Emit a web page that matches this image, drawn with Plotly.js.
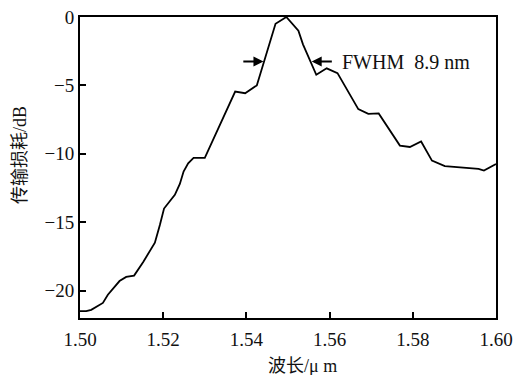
<!DOCTYPE html>
<html>
<head>
<meta charset="utf-8">
<script src="https://cdn.plot.ly/plotly-3.0.1.min.js"></script>
<style>html,body{margin:0;padding:0;background:#fff;}#chart{width:518px;height:375px;}</style>
</head>
<body>
<div id="chart"></div>
<script>
// Wavelength (μm)
const wavelength = [1.5000,1.5015,1.5027,1.5055,1.5067,1.5080,1.5095,1.5111,1.5130,1.5152,1.5180,1.5192,1.5202,1.5228,1.5240,1.5249,1.5260,1.5273,1.5300,1.5373,1.5397,1.5425,1.5470,1.5496,1.5525,1.5536,1.5568,1.5593,1.5619,1.5669,1.5693,1.5718,1.5769,1.5793,1.5820,1.5846,1.5877,1.5958,1.5971,1.6000];
// Transmission loss (dB)
const loss = [-21.5,-21.5,-21.4,-20.9,-20.3,-19.8,-19.3,-19.0,-18.9,-17.9,-16.5,-15.2,-14.0,-13.0,-12.2,-11.3,-10.7,-10.3,-10.3,-5.45,-5.57,-5.0,-0.5,0,-1.0,-2.0,-4.22,-3.75,-4.1,-6.73,-7.08,-7.05,-9.4,-9.5,-9.1,-10.5,-10.9,-11.1,-11.22,-10.75];

const xTickVals = [1.50,1.52,1.54,1.56,1.58,1.60];
const xTickText = ["1.50","1.52","1.54","1.56","1.58","1.60"];
const yTickVals = [0,-5,-10,-15,-20];
const yTickText = ["0","\u22125","\u221210","\u221215","\u221220"];

const fwhmLevel = -3.26;
const leftArrow = {from:1.5389, to:1.5441};
const rightArrow = {from:1.5609, to:1.5557};
const fwhmText = "FWHM  8.9 nm";
const fwhmTextX = 1.5625;

const serif = "'Liberation Serif', 'Times New Roman', 'DejaVu Serif', serif";
const cjk = "'Liberation Serif', 'Noto Sans CJK SC', serif";

const trace = {
  x: wavelength, y: loss, type: 'scatter', mode: 'lines',
  line: {color: '#000', width: 1.8}, hoverinfo: 'skip'
};

const axisCommon = {
  showline: true, linecolor: '#000', linewidth: 2, mirror: true,
  ticks: 'inside', ticklen: 6, tickwidth: 2, tickcolor: '#000',
  showgrid: false, zeroline: false,
  tickfont: {family: serif, size: 19, color: '#111'}
};

const layout = {
  width: 518, height: 375,
  margin: {l: 80, r: 22, t: 17, b: 57},
  paper_bgcolor: '#fff', plot_bgcolor: '#fff',
  font: {family: serif, color: '#111'},
  showlegend: false,
  xaxis: Object.assign({}, axisCommon, {
    range: [1.5, 1.6], tickmode: 'array', tickvals: xTickVals, ticktext: xTickText,
    ticklabelstandoff: 3
  }),
  yaxis: Object.assign({}, axisCommon, {
    range: [-22, 0], tickmode: 'array', tickvals: yTickVals, ticktext: yTickText
  }),
  annotations: [
    {x: leftArrow.to, y: fwhmLevel, ax: leftArrow.from, ay: fwhmLevel, xref: 'x', yref: 'y', axref: 'x', ayref: 'y',
     text: '', showarrow: true, arrowhead: 2, arrowsize: 1, arrowwidth: 2, arrowcolor: '#000', standoff: 0, startstandoff: 0},
    {x: rightArrow.to, y: fwhmLevel, ax: rightArrow.from, ay: fwhmLevel, xref: 'x', yref: 'y', axref: 'x', ayref: 'y',
     text: '', showarrow: true, arrowhead: 2, arrowsize: 1, arrowwidth: 2, arrowcolor: '#000', standoff: 0, startstandoff: 0},
    {x: fwhmTextX, y: fwhmLevel, xref: 'x', yref: 'y', xanchor: 'left', yanchor: 'middle',
     text: fwhmText, showarrow: false, font: {family: serif, size: 20, color: '#111'}},
    {x: 0.536, y: -0.16, xref: 'paper', yref: 'paper', xanchor: 'center', yanchor: 'middle',
     text: '波长/μ m', showarrow: false, font: {family: cjk, size: 18, color: '#111'}},
    {x: -0.144, y: 0.5415, xref: 'paper', yref: 'paper', xanchor: 'center', yanchor: 'middle', textangle: -90,
     text: '传输损耗/dB', showarrow: false, font: {family: cjk, size: 18, color: '#111'}}
  ]
};

Plotly.newPlot('chart', [trace], layout, {staticPlot: true, displayModeBar: false});
</script>
</body>
</html>
